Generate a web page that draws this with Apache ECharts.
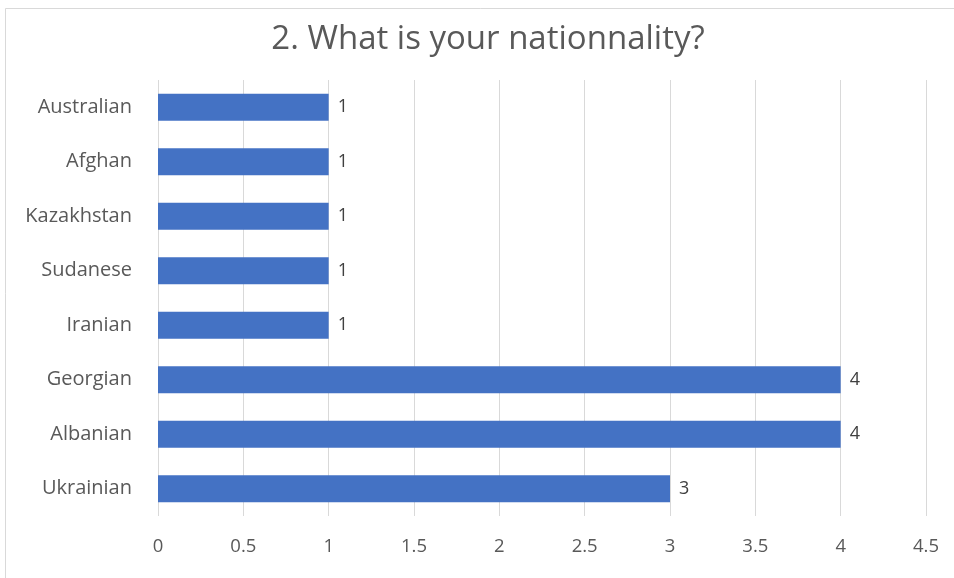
<!DOCTYPE html>
<html>
<head>
<meta charset="utf-8">
<script src="https://cdn.jsdelivr.net/npm/echarts@6/dist/echarts.min.js"></script>
<style>
  html, body { margin: 0; padding: 0; background: #ffffff; }
  #chart { width: 954px; height: 578px; }
</style>
</head>
<body>
<div id="chart"></div>
<script>
// Survey answers: respondents per nationality (listed bottom to top)
const categories = ['Ukrainian', 'Albanian', 'Georgian', 'Iranian', 'Sudanese', 'Kazakhstan', 'Afghan', 'Australian'];
const counts = [3, 4, 4, 1, 1, 1, 1, 1];
const xTicks = { min: 0, max: 4.5, interval: 0.5 };

const FONT = '"Open Sans", "Liberation Sans", sans-serif';

const chart = echarts.init(document.getElementById('chart'), null, { renderer: 'canvas' });
chart.setOption({
  backgroundColor: '#ffffff',
  animation: false,
  title: {
    text: '2. What is your nationnality?',
    left: 483,
    textAlign: 'center',
    top: 18,
    textStyle: { fontFamily: FONT, fontSize: 33, fontWeight: 'normal', color: '#595959' }
  },
  graphic: [{
    type: 'rect',
    shape: { x: 5.5, y: 8.5, width: 960, height: 600 },
    style: { fill: 'none', stroke: '#d9d9d9', lineWidth: 1 },
    silent: true,
    z: -1
  }],
  grid: { left: 158, right: 28, top: 80, bottom: 62, containLabel: false },
  xAxis: {
    type: 'value',
    min: xTicks.min,
    max: xTicks.max,
    interval: xTicks.interval,
    axisLine: { show: false },
    axisTick: { show: false },
    splitLine: { show: true, lineStyle: { color: '#d9d9d9', width: 1 } },
    axisLabel: { fontFamily: FONT, fontSize: 18.5, color: '#595959', margin: 21 }
  },
  yAxis: {
    type: 'category',
    data: categories,
    axisLine: { show: false },
    axisTick: { show: false },
    axisLabel: { fontFamily: FONT, fontSize: 20, color: '#595959', margin: 26, padding: [4, 0, 0, 0] }
  },
  series: [{
    type: 'bar',
    data: counts,
    barWidth: 27,
    itemStyle: { color: '#4472c4' },
    label: {
      show: true,
      position: 'right',
      distance: 9,
      fontFamily: FONT,
      fontSize: 18,
      color: '#404040'
    }
  }]
});
</script>
</body>
</html>
